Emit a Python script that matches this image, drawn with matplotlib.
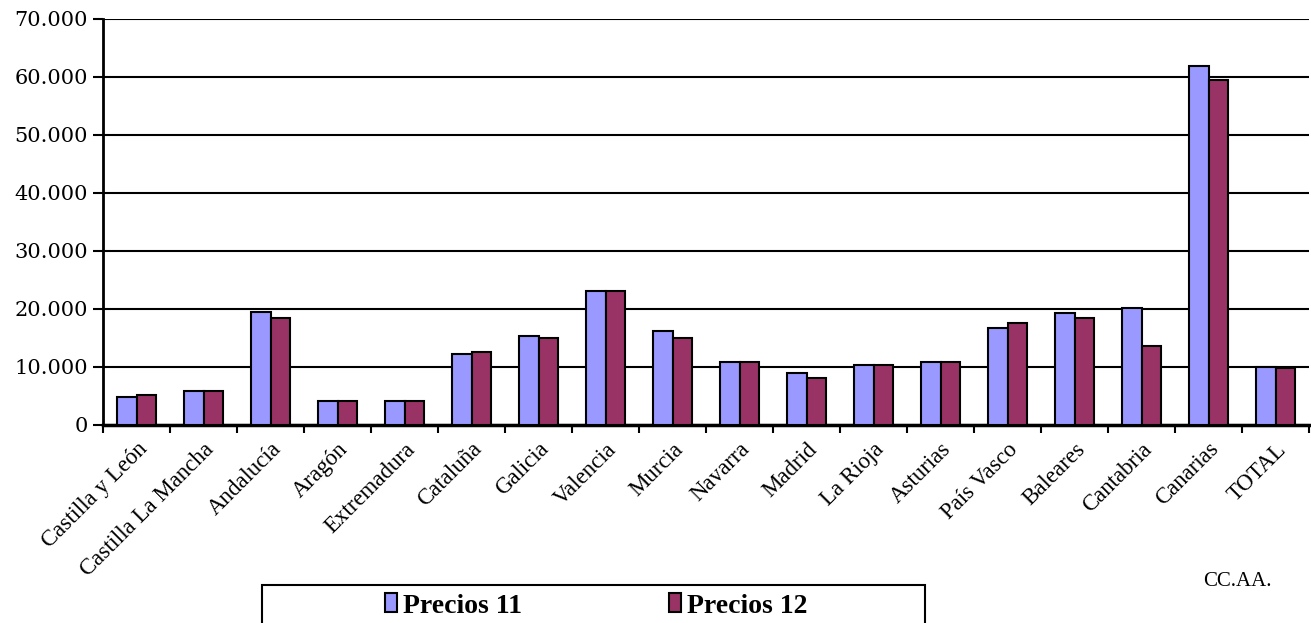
import numpy as np
import matplotlib
matplotlib.use("Agg")
import matplotlib.pyplot as plt
from matplotlib.ticker import FuncFormatter, MultipleLocator
from matplotlib.patches import Rectangle

# Datos por comunidad autónoma
regiones = ["Castilla y León", "Castilla La Mancha", "Andalucía", "Aragón", "Extremadura",
            "Cataluña", "Galicia", "Valencia", "Murcia", "Navarra", "Madrid", "La Rioja",
            "Asturias", "País Vasco", "Baleares", "Cantabria", "Canarias", "TOTAL"]
precios_11 = [4800, 5900, 19500, 4100, 4100, 12200, 15300, 23100, 16100, 10800, 9000, 10400,
              10800, 16700, 19200, 20200, 61800, 10000]
precios_12 = [5200, 5900, 18500, 4100, 4100, 12600, 15000, 23100, 15000, 10800, 8000, 10400,
              10800, 17500, 18500, 13600, 59500, 9800]

azul = "#9999FF"
granate = "#993366"

fig = plt.figure(figsize=(13.11, 6.23), dpi=100)
ax = fig.add_axes([0.0786, 0.318, 0.92, 0.652])

x = np.arange(len(regiones))
w = 0.29
ax.bar(x - w / 2, precios_11, width=w, color=azul, edgecolor="black", linewidth=1.5,
       label="Precios 11", zorder=3)
ax.bar(x + w / 2, precios_12, width=w, color=granate, edgecolor="black", linewidth=1.5,
       label="Precios 12", zorder=3)

ax.set_xlim(-0.5, len(regiones) - 0.5)
ax.set_ylim(0, 70000)
ax.yaxis.set_major_locator(MultipleLocator(10000))
ax.yaxis.set_major_formatter(FuncFormatter(lambda v, p: f"{int(v):,}".replace(",", ".")))
ax.grid(axis="y", color="black", linewidth=1.5, zorder=0)

# ticks del eje x entre categorías
ax.set_xticks(np.arange(len(regiones) + 1) - 0.5)
ax.set_xticklabels([])
ax.set_xticks(x, minor=True)
ax.set_xticklabels(regiones, minor=True, rotation=45, ha="right", rotation_mode="anchor",
                   fontfamily="Liberation Serif", fontsize=16.5)
ax.tick_params(axis="x", which="minor", length=0, pad=10)
ax.tick_params(axis="x", which="major", length=6, width=1.5, direction="out")
ax.tick_params(axis="y", length=7, width=1.5, labelsize=15, pad=4)
for lab in ax.get_yticklabels():
    lab.set_fontfamily("DejaVu Serif")

for s in ["top", "right"]:
    ax.spines[s].set_visible(False)
ax.spines["left"].set_linewidth(2)
ax.spines["bottom"].set_linewidth(2.5)

# leyenda con recuadro
fig.patches.append(Rectangle((262 / 1311, -0.05), (925 - 262) / 1311, 0.05 + (623 - 585) / 623,
                             transform=fig.transFigure, fill=False, edgecolor="black",
                             linewidth=1.5))
fig.legend(loc="center", bbox_to_anchor=(596 / 1311, 1 - 606 / 623), ncol=2, frameon=False,
           prop={"family": "Liberation Serif", "weight": "bold", "size": 20},
           handlelength=0.45, handleheight=0.65, handletextpad=0.2, columnspacing=5.3)

fig.text(1203 / 1311, 1 - 582 / 623, "CC.AA.", fontfamily="Liberation Serif", fontsize=15,
         va="center", ha="left")

fig.savefig("out.png", dpi=100)
